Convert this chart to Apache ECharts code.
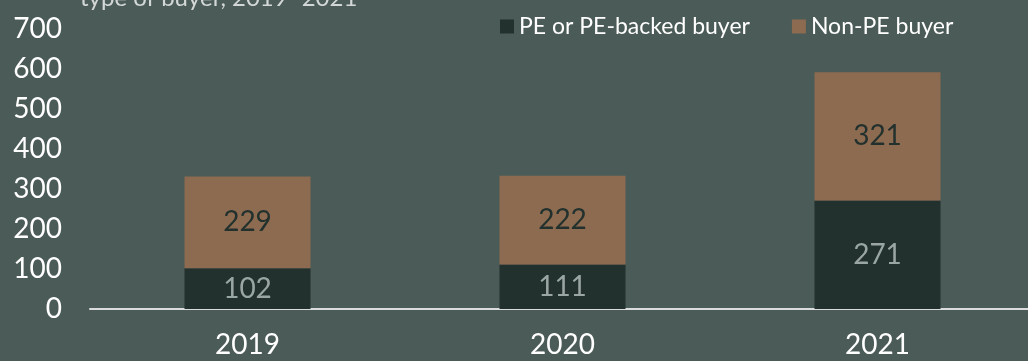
<!DOCTYPE html>
<html>
<head>
<meta charset="utf-8">
<script src="https://cdn.jsdelivr.net/npm/echarts@6/dist/echarts.min.js"></script>
<style>
  html, body { margin: 0; padding: 0; background: #4b5b57; overflow: hidden; }
  /* the canvas runs a few pixels past the right edge of the window */
  #chart { width: 1035px; height: 361px; }
</style>
</head>
<body>
<div id="chart"></div>
<script>
// Deals by type of buyer, 2019–2021
const years = ['2019', '2020', '2021'];
const peBacked = [102, 111, 271];
const nonPE = [229, 222, 321];
const yTicks = [0, 100, 200, 300, 400, 500, 600, 700];

const FONT = 'Lato, "Open Sans", sans-serif';
const BG = '#4b5b57';
const DARK = '#22312d';
const BROWN = '#8d6b51';

const chart = echarts.init(document.getElementById('chart'));
chart.setOption({
  backgroundColor: BG,
  animation: false,
  textStyle: { fontFamily: FONT },
  title: {
    text: 'type of buyer, 2019–2021',
    left: 75,
    top: -19,
    textStyle: { color: '#d3d8d6', fontSize: 24, fontWeight: 'normal', fontFamily: FONT }
  },
  legend: {
    left: 495,
    top: 10,
    itemWidth: 14,
    itemHeight: 14,
    itemGap: 42,
    icon: 'rect',
    textStyle: { color: '#ffffff', fontSize: 23, fontFamily: FONT },
    data: ['PE or PE-backed buyer', 'Non-PE buyer']
  },
  grid: { left: 90, right: 0, top: 29, bottom: 52, containLabel: false },
  xAxis: {
    type: 'category',
    data: years,
    axisLine: { show: true, lineStyle: { color: '#d9dcdb', width: 2 } },
    axisTick: { show: false },
    axisLabel: { color: '#ffffff', fontSize: 28, margin: 22, fontFamily: FONT }
  },
  yAxis: {
    type: 'value',
    min: yTicks[0],
    max: yTicks[yTicks.length - 1],
    interval: 100,
    splitLine: { show: false },
    axisLine: { show: false },
    axisTick: { show: false },
    axisLabel: { color: '#ffffff', fontSize: 28, margin: 28, fontFamily: FONT }
  },
  series: [
    {
      name: 'PE or PE-backed buyer',
      type: 'bar',
      stack: 'buyers',
      data: peBacked,
      barWidth: 126,
      itemStyle: { color: DARK },
      label: { show: true, position: 'inside', color: '#9aa6a3', fontSize: 28, fontFamily: FONT }
    },
    {
      name: 'Non-PE buyer',
      type: 'bar',
      stack: 'buyers',
      data: nonPE,
      barWidth: 126,
      itemStyle: { color: BROWN },
      label: { show: true, position: 'inside', color: DARK, fontSize: 28, fontFamily: FONT }
    }
  ]
});
</script>
</body>
</html>
